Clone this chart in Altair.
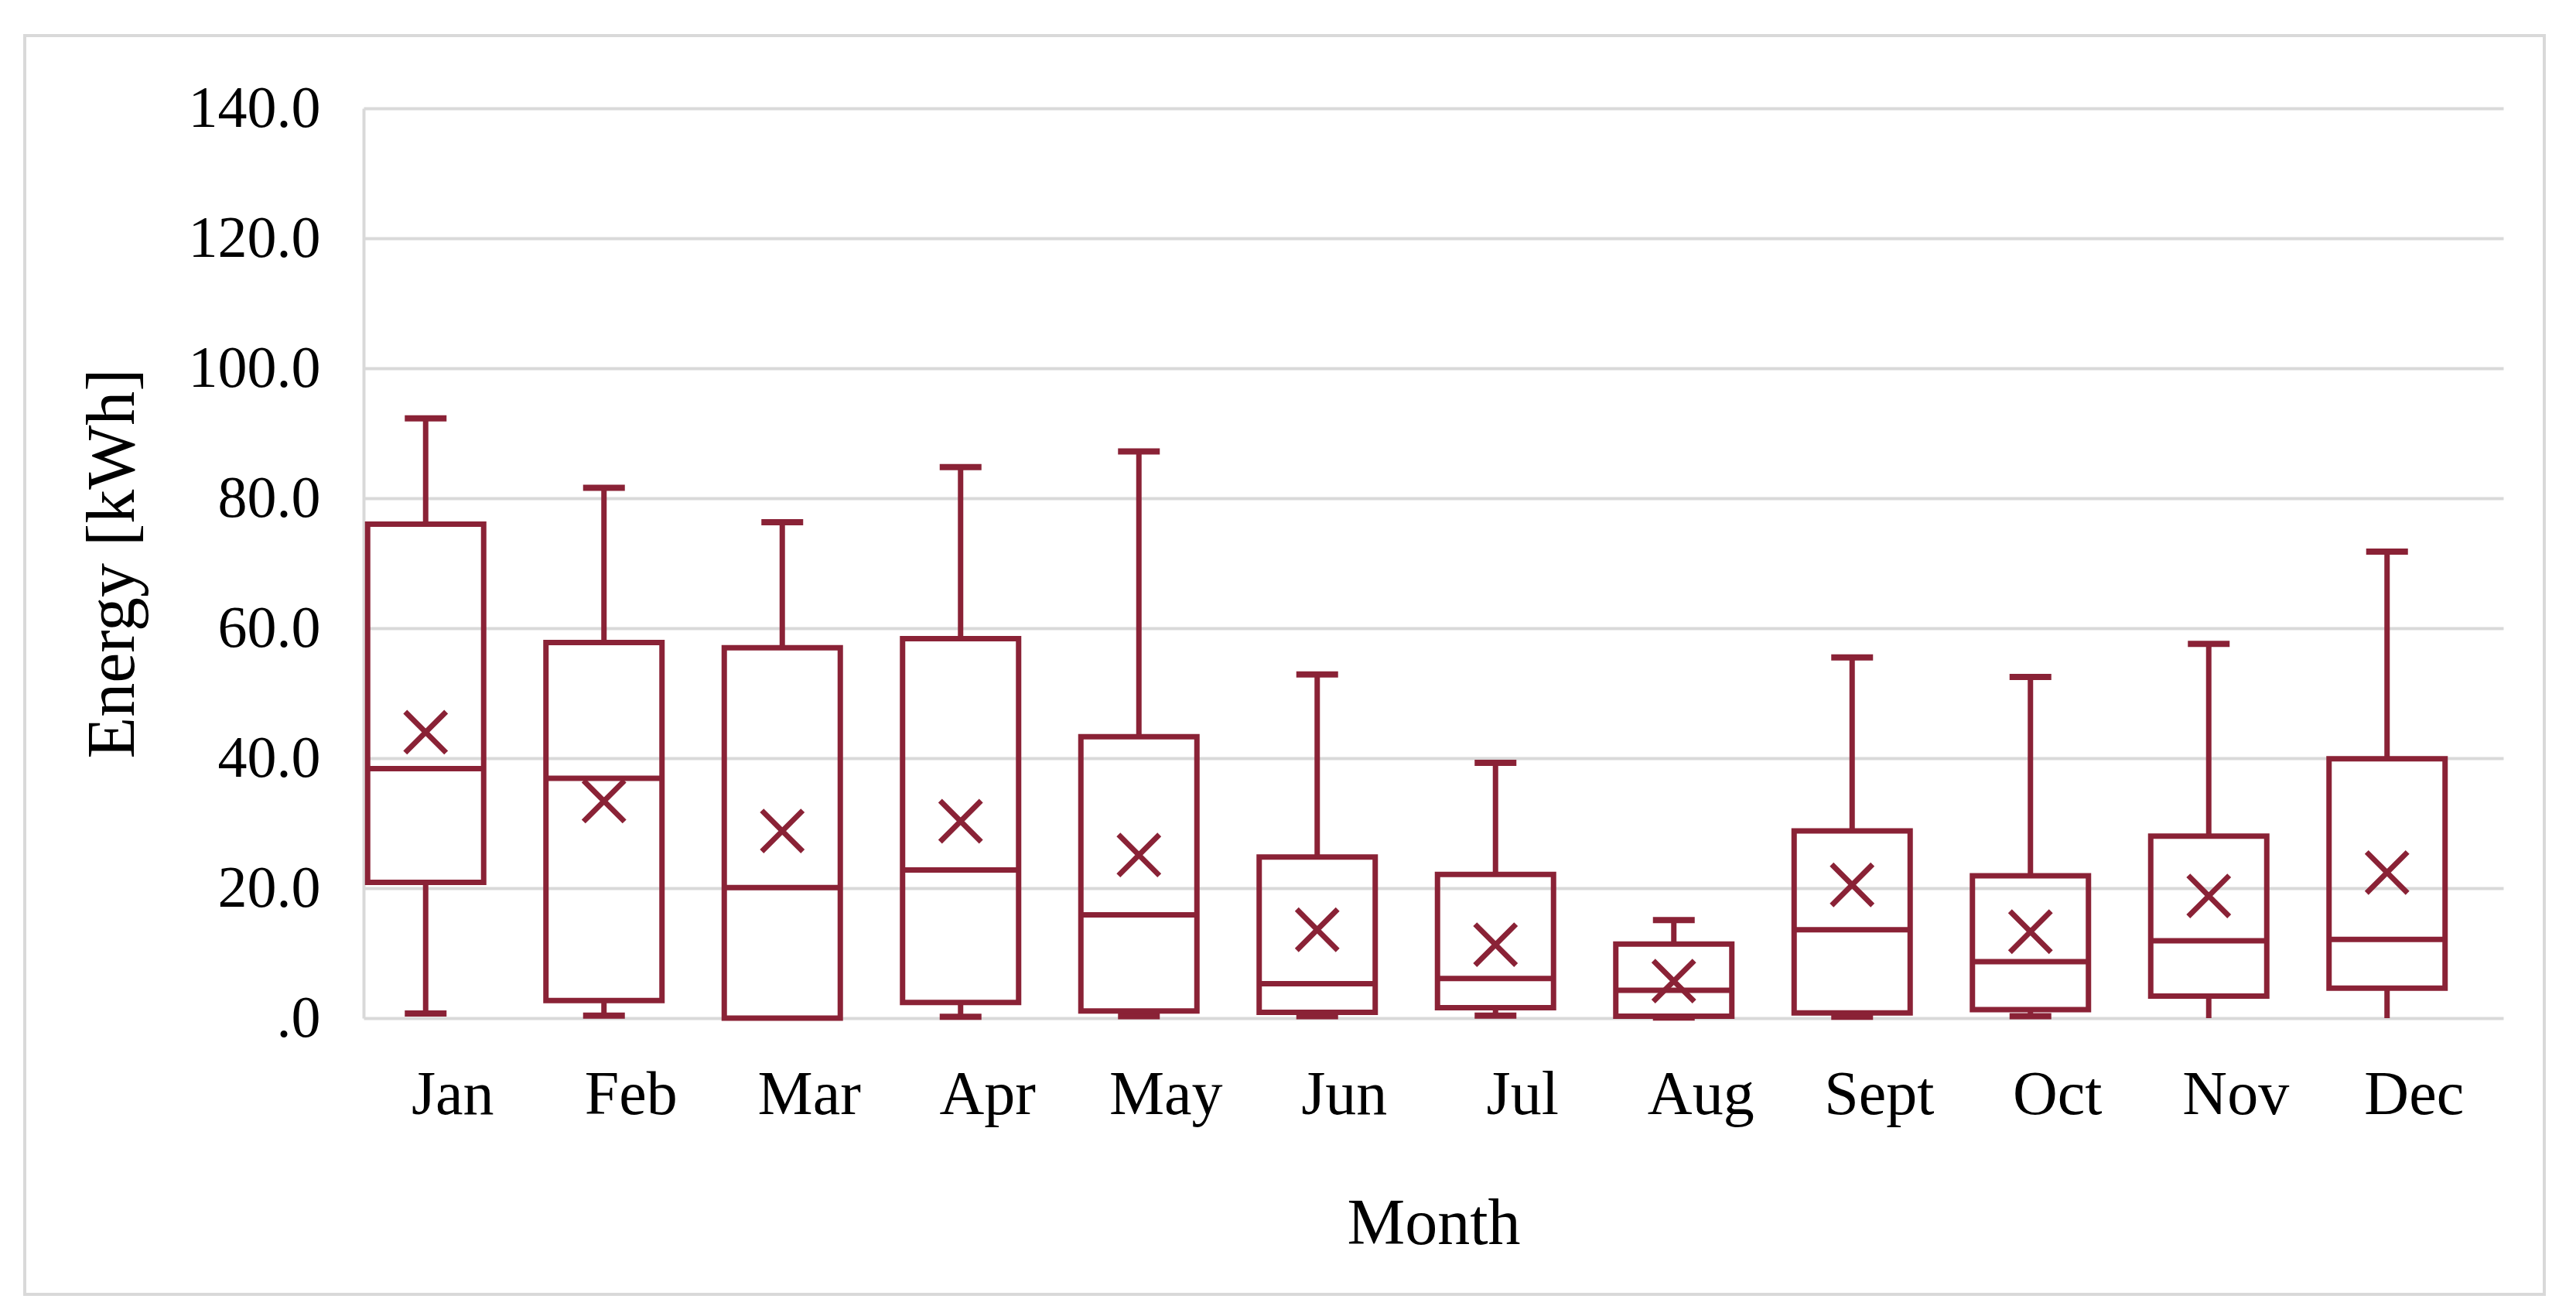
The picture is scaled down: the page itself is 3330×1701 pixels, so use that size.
import altair as alt
import pandas as pd

months = ["Jan", "Feb", "Mar", "Apr", "May", "Jun", "Jul", "Aug", "Sept", "Oct", "Nov", "Dec"]
whisker_low = [0.7, 0.4, 0.0, 0.2, 0.3, 0.3, 0.4, 0.1, 0.2, 0.3, 0.0, 0.0]
q1 = [20.9, 2.7, 0.0, 2.4, 1.1, 0.9, 1.6, 0.3, 0.8, 1.3, 3.4, 4.6]
median = [38.4, 36.9, 20.1, 22.8, 15.9, 5.3, 6.1, 4.3, 13.6, 8.7, 11.9, 12.1]
q3 = [76.0, 57.8, 57.0, 58.4, 43.3, 24.8, 22.1, 11.4, 28.8, 21.9, 28.0, 39.9]
whisker_high = [92.3, 81.6, 76.3, 84.8, 87.2, 52.9, 39.3, 15.1, 55.5, 52.5, 57.6, 71.8]
mean = [44.0, 33.4, 28.8, 30.3, 25.1, 13.6, 11.3, 5.7, 20.5, 13.3, 18.8, 22.4]
y_ticks = [0, 20, 40, 60, 80, 100, 120, 140]

df = pd.DataFrame({
    "month": months, "lo": whisker_low, "q1": q1, "med": median,
    "q3": q3, "hi": whisker_high, "mean": mean,
})

RED = "#8a2236"
GRID = "#d9d9d9"
FONT = "Liberation Serif"
OFF = -35
SW = 7

x = alt.X("month:N", sort=months,
          scale=alt.Scale(paddingInner=0, paddingOuter=0),
          axis=alt.Axis(title="Month", labelAngle=0, ticks=False, domain=False,
                        labelPadding=60, titlePadding=86,
                        labelFontSize=80, titleFontSize=84,
                        labelFont=FONT, titleFont=FONT,
                        labelColor="black", titleColor="black",
                        titleFontWeight="normal"))
yscale = alt.Scale(domain=[0, 140], nice=False)
yaxis = alt.Axis(title="Energy [kWh]", values=y_ticks, ticks=False,
                 labelExpr="datum.value == 0 ? '.0' : format(datum.value, '.1f')",
                 grid=True, gridColor=GRID, gridWidth=4,
                 domain=True, domainColor=GRID, domainWidth=4,
                 labelPadding=56, titlePadding=80,
                 labelFontSize=76, titleFontSize=88,
                 labelFont=FONT, titleFont=FONT,
                 labelColor="black", titleColor="black",
                 titleFontWeight="normal")

base = alt.Chart(df).encode(x=x)

frame = alt.Chart(alt.Data(values=[{"a": 1}])).mark_rect(
    fill="white", fillOpacity=0, stroke=GRID, strokeWidth=4
).encode(x=alt.value(-438), x2=alt.value(2819), y=alt.value(-94), y2=alt.value(1533))

whisk_up = base.mark_rule(color=RED, strokeWidth=SW, xOffset=OFF).encode(
    y=alt.Y("q3:Q", scale=yscale, axis=yaxis), y2="hi:Q")
whisk_dn = base.mark_rule(color=RED, strokeWidth=SW, xOffset=OFF).transform_filter(
    "datum.lo < datum.q1").encode(y=alt.Y("lo:Q", scale=yscale), y2="q1:Q")
cap_hi = base.mark_tick(color=RED, size=54, thickness=8, xOffset=OFF, opacity=1).encode(
    y=alt.Y("hi:Q", scale=yscale))
cap_lo = base.mark_tick(color=RED, size=54, thickness=8, xOffset=OFF, opacity=1).transform_filter(
    "datum.lo > 0 && datum.lo < datum.q1").encode(y=alt.Y("lo:Q", scale=yscale))
box = base.mark_bar(size=150, xOffset=OFF, fill="white", fillOpacity=0,
                    stroke=RED, strokeWidth=SW).encode(
    y=alt.Y("q1:Q", scale=yscale), y2="q3:Q")
med = base.mark_tick(color=RED, size=150, thickness=SW, xOffset=OFF, opacity=1).encode(
    y=alt.Y("med:Q", scale=yscale))
mn = base.mark_point(shape="M-1,-1L1,1M-1,1L1,-1", size=2800, filled=False,
                     color=RED, strokeWidth=SW, xOffset=OFF, opacity=1).encode(
    y=alt.Y("mean:Q", scale=yscale))

chart = alt.layer(frame, whisk_up, whisk_dn, cap_hi, cap_lo, box, med, mn).properties(
    width=2766, height=1176,
    autosize=alt.AutoSizeParams(type="none"),
    padding={"left": 462, "top": 132, "right": 68, "bottom": 370},
    background="white",
).configure_view(stroke=None)

chart.save("out.html", embed_options={"renderer": "svg", "actions": False})
